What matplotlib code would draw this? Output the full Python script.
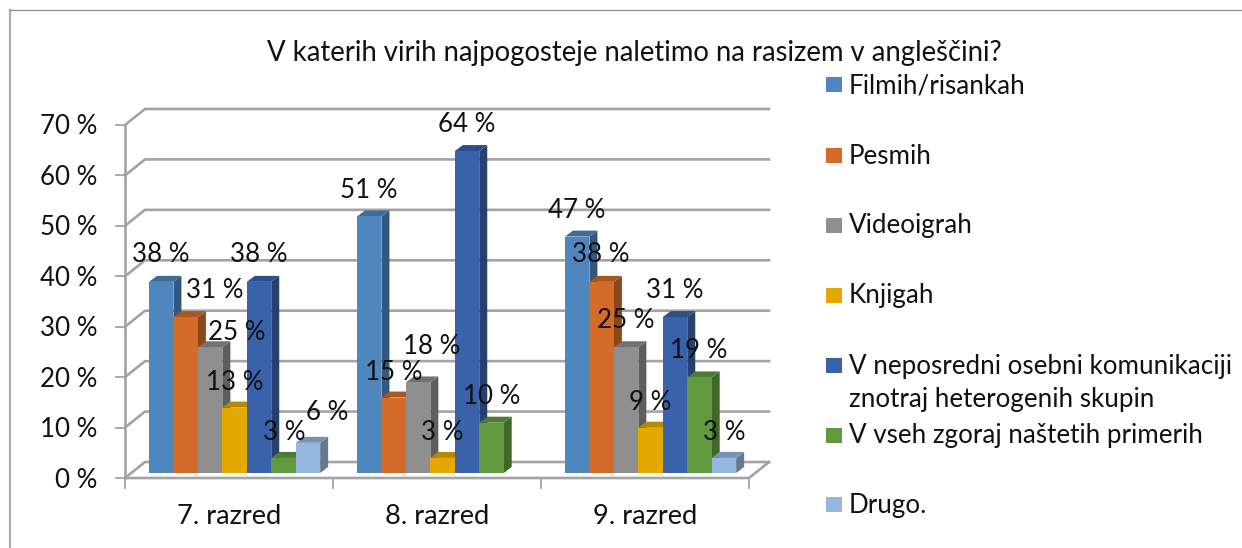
import matplotlib
matplotlib.use("Agg")
import matplotlib.pyplot as plt
from matplotlib.patches import Polygon
from matplotlib.colors import to_rgb

title = "V katerih virih najpogosteje naletimo na rasizem v angleščini?"
categories = ["7. razred", "8. razred", "9. razred"]
series_names = ["Filmih/risankah", "Pesmih", "Videoigrah", "Knjigah",
                "V neposredni osebni komunikaciji\nznotraj heterogenih skupin",
                "V vseh zgoraj naštetih primerih", "Drugo."]
filmih = [38, 51, 47]
pesmih = [31, 15, 38]
videoigrah = [25, 18, 25]
knjigah = [13, 3, 9]
neposredni = [38, 64, 31]
vseh = [3, 10, 19]
drugo = [6, None, 3]
series = [filmih, pesmih, videoigrah, knjigah, neposredni, vseh, drugo]
colors = ["#4f86bd", "#d46b28", "#8f8f8f", "#e3a900", "#3a62ab", "#619a3e", "#95b7e0"]
y_ticks = [0, 10, 20, 30, 40, 50, 60, 70]

W, H = 1242, 548
X0, BASE, PX_CAT, PX_PCT = 125, 473, 208, 5.03
FONT = "Lato"
FS = 18.6
GRID = "#a3a3a3"
INK = "#111111"

fig = plt.figure(figsize=(W / 100, H / 100), dpi=100, facecolor="white")
ax = fig.add_axes([0, 0, 1, 1])
ax.set_xlim(-X0 / PX_CAT, (W - X0) / PX_CAT)
ax.set_ylim((BASE - H) / PX_PCT, BASE / PX_PCT)
ax.axis("off")

def dx(px): return px / PX_CAT
def dy(px): return px / PX_PCT
def X(px): return (px - X0) / PX_CAT
def Y(py): return (BASE - py) / PX_PCT

# outer frame
ax.plot([X(10), X(10)], [Y(548), Y(10)], color="#b0b0b0", lw=1.6)
ax.plot([X(10), X(1242)], [Y(10), Y(10)], color="#8c8c8c", lw=0.9)

# walls, gridlines, ticks
DEP_X, DEP_Y = 20, 16
for v in y_ticks:
    fy = 478 - 5.043 * v
    ax.plot([X(125), X(145), X(769)], [Y(fy), Y(fy - DEP_Y), Y(fy - DEP_Y)],
            color=GRID, lw=1.9, solid_joinstyle="round", zorder=1)
    ax.plot([X(116), X(125)], [Y(fy), Y(fy)], color=GRID, lw=1.3, zorder=1)
    ax.text(X(97), Y(fy + 2), f"{v} %", ha="right", va="center", fontsize=FS,
            family=FONT, color=INK)
ax.plot([X(125), X(125)], [Y(478), Y(478 - 5.043 * 70)], color=GRID, lw=1.9, zorder=1)
ax.plot([X(125), X(749), X(769)], [Y(478), Y(478), Y(462)], color=GRID, lw=1.9, zorder=1)
for i in range(len(categories) + 1):
    ax.plot([i, i], [Y(478), Y(488)], color=GRID, lw=1.3, zorder=1)
for i, c in enumerate(categories):
    ax.text(i + 0.5, Y(517), c, ha="center", va="center", fontsize=19.6, family=FONT, color=INK)

# 3D bars
BAR = 24.45 / PX_CAT
GROUP_START = 24 / PX_CAT
BX, BY = dx(8), dy(6)

def shade(c, f):
    return tuple(x * f for x in to_rgb(c))

for s, (vals, col) in enumerate(zip(series, colors)):
    for g, v in enumerate(vals):
        if v is None:
            continue
        x = g + GROUP_START + s * BAR
        z = 3 + s
        ax.add_patch(Polygon([(x + BAR, 0), (x + BAR + BX, BY), (x + BAR + BX, v + BY), (x + BAR, v)],
                             fc=shade(col, 0.66), ec="none", zorder=z))
        ax.add_patch(Polygon([(x, v), (x + BX, v + BY), (x + BAR + BX, v + BY), (x + BAR, v)],
                             fc=shade(col, 0.8), ec="none", zorder=z))
        ax.bar(x, v, BAR, align="edge", color=col, zorder=z + 0.5, linewidth=0)

# data labels
label_px = [
    [(161, 254), (215, 291), (237, 333), (235, 382), (259, 254), (284, 433), (327, 412)],
    [(369, 191), (394, 372), (432, 346), (442, 433), (467, 124), (492, 397), None],
    [(577, 210), (601, 254), (626, 321), (650, 402), (675, 291), (699, 351), (724, 433)],
]
for g in range(3):
    for s in range(7):
        v = series[s][g]
        if v is None:
            continue
        px, py = label_px[g][s]
        ax.text(X(px), Y(py), f"{v} %", ha="center", va="center", fontsize=FS,
                family=FONT, color=INK, zorder=20)

# title
ax.text(X(634), Y(53), title, ha="center", va="center", fontsize=19.8, family=FONT, color=INK, zorder=20)

# legend
leg_y = [85, 155, 225, 295, 382, 435, 504]
sq_w, sq_h = 16, 15
for name, col, ly in zip(series_names, colors, leg_y):
    first = ly - 17 if "\n" in name else ly
    ax.add_patch(Polygon([(X(826), Y(first - sq_h / 2)), (X(826 + sq_w), Y(first - sq_h / 2)),
                          (X(826 + sq_w), Y(first + sq_h / 2)), (X(826), Y(first + sq_h / 2))],
                         fc=col, ec="none"))
    ax.text(X(849), Y(ly + 1), name, ha="left", va="center", fontsize=FS + 0.1, family=FONT,
            color=INK, linespacing=1.36)

fig.savefig("out.png", dpi=100, facecolor="white")
